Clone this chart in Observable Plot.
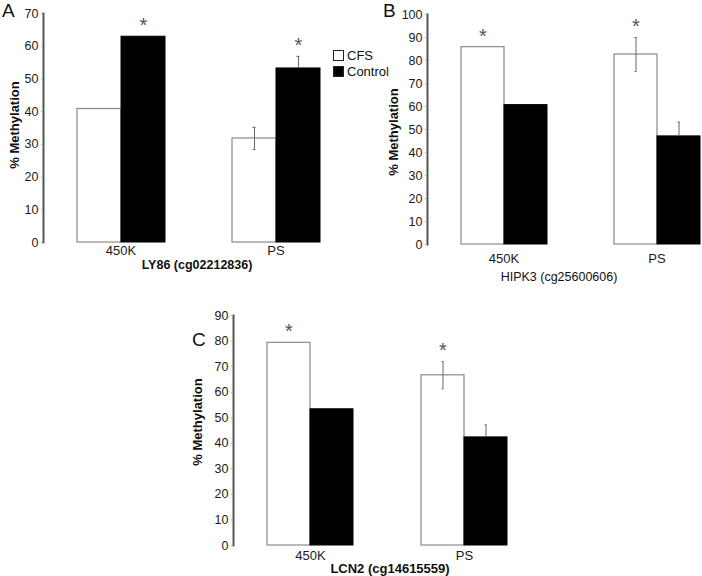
<!DOCTYPE html>
<html>
<head>
<meta charset="utf-8">
<script src="https://cdn.jsdelivr.net/npm/d3@7"></script>
<script src="https://cdn.jsdelivr.net/npm/@observablehq/plot@0.6"></script>
<style>
  html, body { margin: 0; padding: 0; background: #fff; }
  #wrap { position: relative; width: 702px; height: 576px; overflow: hidden; background: #fff;
          font-family: "Liberation Sans", Arial, sans-serif; color: #111; }
  .abs { position: absolute; white-space: nowrap; line-height: 1; }
  .ctr { transform: translate(-50%, -50%); }
  .rot { transform: translate(-50%, -50%) rotate(-90deg); }
  .sq { position: absolute; width: 9px; height: 9px; border: 1px solid #222; box-sizing: content-box; }
  svg { position: absolute; overflow: visible; }
</style>
</head>
<body>
<div id="wrap"></div>
<script>
// ---- data ----
const categories = ["450K", "PS"];
const groups = ["CFS", "Control"];

// Panel A: LY86 (cg02212836)
const aCFS = [40.8, 31.8];
const aControl = [62.9, 53.2];
const aCFSErr = [0, 3.4];
const aControlErr = [0, 3.7];
const aSigGroup = "Control";

// Panel B: HIPK3 (cg25600606)
const bCFS = [85.8, 82.6];
const bControl = [60.6, 47.0];
const bCFSErr = [0, 7.4];
const bControlErr = [0, 6.2];
const bSigGroup = "CFS";

// Panel C: LCN2 (cg14615559)
const cCFS = [79.3, 66.6];
const cControl = [53.3, 42.3];
const cCFSErr = [0, 5.3];
const cControlErr = [0, 4.9];
const cSigGroup = "CFS";

const panelLetters = ["A", "B", "C"];
const panelTitles = ["LY86 (cg02212836)", "HIPK3 (cg25600606)", "LCN2 (cg14615559)"];
const yLabel = "% Methylation";
const yMaxes = [70, 100, 90];

const FONT = "'Liberation Sans', Arial, sans-serif";
const wrap = document.getElementById("wrap");

function buildRows(cfs, ctrl, cfsErr, ctrlErr, sig) {
  return categories.flatMap((c, i) => [
    {cat: c, group: "CFS", value: cfs[i], err: cfsErr[i], sig: sig === "CFS"},
    {cat: c, group: "Control", value: ctrl[i], err: ctrlErr[i], sig: sig === "Control"}
  ]);
}

function panel(rows, yMax, o) {
  const errRows = rows.filter(d => d.err > 0);
  const caps = errRows.flatMap(d => d.group === "CFS"
    ? [{cat: d.cat, group: d.group, y: d.value + d.err}, {cat: d.cat, group: d.group, y: d.value - d.err}]
    : [{cat: d.cat, group: d.group, y: d.value + d.err}]);
  const chart = Plot.plot({
    width: o.width, height: o.height,
    marginLeft: o.ml, marginRight: o.mr, marginTop: o.mt, marginBottom: o.mb,
    style: {fontFamily: FONT, background: "transparent", color: "#1a1a1a", overflow: "visible"},
    fx: {domain: categories, paddingInner: 0, paddingOuter: 0, label: null},
    x: {domain: groups, paddingInner: 0, paddingOuter: 0.76, axis: null},
    y: {domain: [0, yMax]},
    marks: [
      Plot.barY(rows, {filter: d => d.group === "CFS", fx: "cat", x: "group", y: "value",
        fill: "white", stroke: "#8a8a8a", strokeWidth: 1.2}),
      Plot.barY(rows, {filter: d => d.group === "Control", fx: "cat", x: "group", y: "value",
        fill: "black", stroke: "black", strokeWidth: 1}),
      Plot.ruleX(errRows, {fx: "cat", x: "group",
        y1: d => d.group === "Control" ? d.value : d.value - d.err,
        y2: d => d.value + d.err, stroke: "#666", strokeWidth: 1}),
      Plot.tickY(caps, {fx: "cat", x: "group", y: "y", stroke: "#666", strokeWidth: 1,
        insetLeft: 20.5, insetRight: 20.5}),
      Plot.text(rows.filter(d => d.sig), {fx: "cat", x: "group", y: d => d.value + (d.err || 0),
        text: () => "*", dy: -11, fontSize: 20, fill: "#555"}),
      Plot.frame({anchor: "left", stroke: "#555", strokeWidth: 2, facetAnchor: "left"}),
      Plot.axisY({ticks: d3.range(0, yMax + 1, 10), tickFormat: d => String(d), tickSize: 2,
        tickPadding: 3, fontSize: 12.5, label: null, stroke: "#aaa"}),
      Plot.axisFx({anchor: "bottom", tickSize: 0, tickPadding: o.fxPad, fontSize: 13, label: null})
    ]
  });
  chart.style.left = o.left + "px";
  chart.style.top = o.top + "px";
  wrap.appendChild(chart);
}

panel(buildRows(aCFS, aControl, aCFSErr, aControlErr, aSigGroup), yMaxes[0],
  {left: 0, top: 0, width: 360, height: 280, ml: 42, mr: 7, mt: 13, mb: 38, fxPad: 3});
panel(buildRows(bCFS, bControl, bCFSErr, bControlErr, bSigGroup), yMaxes[1],
  {left: 350, top: 0, width: 383, height: 280, ml: 76, mr: 0, mt: 14, mb: 36, fxPad: 9});
panel(buildRows(cCFS, cControl, cCFSErr, cControlErr, cSigGroup), yMaxes[2],
  {left: 170, top: 280, width: 371, height: 296, ml: 62, mr: 0, mt: 35, mb: 31, fxPad: 5});

function addText(txt, cls, x, y, css) {
  const d = document.createElement("div");
  d.className = "abs " + cls;
  d.textContent = txt;
  d.style.left = x + "px";
  d.style.top = y + "px";
  Object.assign(d.style, css || {});
  wrap.appendChild(d);
}

// panel letters
addText(panelLetters[0], "", 2, 1, {fontSize: "19px"});
addText(panelLetters[1], "", 383, 1, {fontSize: "19px"});
addText(panelLetters[2], "", 192, 330, {fontSize: "19px"});

// x titles
addText(panelTitles[0], "ctr", 197, 265, {fontSize: "12.5px", fontWeight: "bold"});
addText(panelTitles[1], "ctr", 559, 277, {fontSize: "12.5px"});
addText(panelTitles[2], "ctr", 390, 568, {fontSize: "13px", fontWeight: "bold"});

// y labels
addText(yLabel, "rot", 14, 125, {fontSize: "13px", fontWeight: "bold"});
addText(yLabel, "rot", 393, 132, {fontSize: "13px", fontWeight: "bold"});
addText(yLabel, "rot", 197, 422, {fontSize: "13px", fontWeight: "bold"});

// legend
const legendItems = [{label: groups[0], fill: "#fff", y: 50}, {label: groups[1], fill: "#000", y: 66}];
legendItems.forEach(it => {
  const s = document.createElement("div");
  s.className = "sq";
  s.style.left = "333px";
  s.style.top = it.y + "px";
  s.style.background = it.fill;
  wrap.appendChild(s);
  addText(it.label, "", 347, it.y - 1, {fontSize: "13px"});
});
</script>
</body>
</html>
